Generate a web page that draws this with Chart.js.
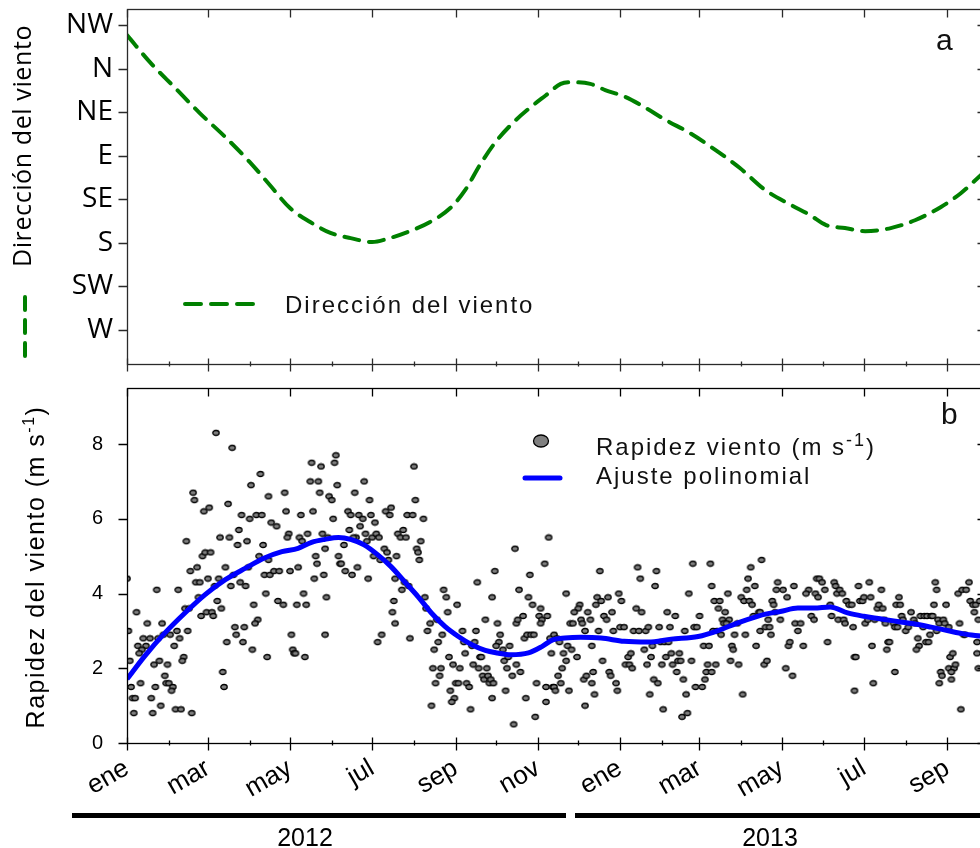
<!DOCTYPE html>
<html>
<head>
<meta charset="utf-8">
<script src="https://cdn.jsdelivr.net/npm/chart.js@4.4.1/dist/chart.umd.min.js"></script>
<style>
  html, body { margin: 0; padding: 0; background: #fff; overflow: hidden; width: 980px; height: 848px; }
  #wrap { position: relative; width: 980px; height: 848px; overflow: hidden; }
  canvas { position: absolute; left: 0; }
  #dir { top: 0; }
  #spd { top: 376px; }
</style>
</head>
<body>
<div id="wrap">
  <canvas id="dir" width="990" height="376"></canvas>
  <canvas id="spd" width="990" height="472"></canvas>
</div>
<script>
// ---- time axis: days since 1 Jan 2012 ----
const monthStarts = [0, 31, 60, 91, 121, 152, 182, 213, 244, 274, 305, 335, 366, 397, 425, 456, 486, 517, 547, 578, 609];
const monthNames  = ['ene','feb','mar','abr','may','jun','jul','ago','sep','oct','nov','dic','ene','feb','mar','abr','may','jun','jul','ago','sep'];
const dayMax = 634;

// ---- panel a: wind direction ----
const dirLabels = ['W', 'SW', 'S', 'SE', 'E', 'NE', 'N', 'NW'];
const dirDays   = [0, 17, 36, 54, 73, 91, 106, 121, 136, 151, 166, 182, 195, 210, 225, 240, 251, 262, 273, 285, 299, 311, 322, 329, 344, 355, 370, 385, 400, 418, 437, 455, 474, 493, 507, 519, 533, 548, 567, 585, 604, 619, 634];
const dirValues = [6.77, 6.15, 5.55, 4.98, 4.43, 3.86, 3.33, 2.80, 2.48, 2.23, 2.11, 2.02, 2.11, 2.27, 2.48, 2.80, 3.21, 3.79, 4.29, 4.71, 5.10, 5.39, 5.65, 5.69, 5.65, 5.51, 5.35, 5.10, 4.82, 4.52, 4.13, 3.72, 3.21, 2.87, 2.64, 2.41, 2.34, 2.27, 2.34, 2.52, 2.82, 3.14, 3.56];

// ---- panel b: daily wind speed [day, m/s] ----
const speedObs = [
  [66,8.3],[78,7.9],[99,7.2],[92,6.9],[49,6.7],[50,6.5],[117,6.7],[105,6.6],[75,6.4],[57,6.2],[61,6.3],[118,6.2],[85,6.1],[91,6.0],[96,6.1],[100,6.1],[107,5.9],[111,5.8],[83,5.7],[69,5.5],[76,5.5],[120,5.6],[119,5.5],[89,5.4],[82,5.3],[101,5.3],[44,5.4],[56,5.0],[58,5.1],[62,5.1],[98,5.0],[105,4.9],[52,4.7],[47,4.6],[73,4.7],[90,4.7],[79,4.5],[102,4.5],[106,4.5],[109,4.6],[113,4.6],[121,4.6],[127,4.7],[51,4.3],[54,4.3],[60,4.4],[68,4.4],[65,4.2],[77,4.2],[84,4.3],[88,4.2],[22,4.1],[38,4.1],[103,4.0],[53,3.9],[67,3.8],[70,3.6],[94,3.7],[112,3.8],[116,3.7],[126,3.7],[131,4.0],[133,3.7],[43,3.6],[46,3.6],[55,3.4],[59,3.5],[63,3.5],[64,3.4],[7,3.5],[97,3.3],[95,3.2],[80,3.1],[87,3.1],[81,2.9],[74,2.7],[86,2.7],[93,2.5],[104,2.3],[122,2.9],[123,2.5],[124,2.4],[125,2.4],[132,2.3],[15,3.2],[26,3.2],[45,3.0],[37,3.0],[39,2.8],[32,2.9],[27,2.9],[23,2.8],[35,2.6],[42,2.3],[41,2.2],[1,3.0],[12,2.8],[17,2.8],[14,2.6],[8,2.6],[11,2.5],[9,2.4],[2,2.2],[24,2.2],[20,2.1],[30,2.1],[28,1.8],[29,1.6],[31,1.6],[34,1.5],[33,1.4],[21,1.5],[10,1.6],[3,1.5],[4,1.2],[6,1.2],[18,1.2],[25,1.0],[5,0.8],[19,0.8],[36,0.9],[40,0.9],[48,0.8],[71,1.9],[72,1.5],[0,4.4],
  [137,7.5],[144,7.4],[154,7.5],[155,7.7],[136,7.0],[142,7.0],[143,6.7],[156,6.9],[150,6.6],[152,6.5],[138,6.2],[153,6.0],[129,6.1],[134,5.6],[145,5.6],[128,5.5],[130,5.4],[147,5.2],[149,5.5],[140,5.0],[141,4.8],[157,5.0],[158,4.8],[139,4.4],[146,4.5],[148,3.9],[147,2.9],
  [176,7.0],[169,6.7],[180,6.5],[213,7.4],[214,6.5],[164,6.2],[166,6.1],[172,6.1],[175,6.0],[181,6.1],[192,6.2],[196,6.3],[195,6.1],[208,6.1],[212,6.1],[220,6.0],[184,5.9],[173,5.8],[165,5.7],[177,5.6],[170,5.5],[168,5.5],[182,5.5],[185,5.6],[187,5.5],[205,5.7],[201,5.6],[203,5.5],[207,5.5],[218,5.4],[161,5.3],[178,5.4],[191,5.2],[193,5.1],[183,5.0],[188,4.9],[194,4.9],[200,5.0],[215,5.2],[216,5.1],[217,4.9],[159,4.8],[162,4.6],[167,4.5],[171,4.7],[179,4.4],[199,4.4],[204,4.1],[206,4.3],[209,4.2],[198,3.8],[197,3.5],[199,3.2],[189,2.9],[186,2.7],[210,2.8],[221,3.9],[222,3.6],[225,3.2],[223,3.0],[235,4.1],[237,3.9],[245,3.7],[238,3.5],[230,3.3],[234,2.9],[231,2.7],[228,2.5],[239,2.3],[242,2.1],[247,2.0],[227,2.0],[233,2.0],[232,1.8],[229,1.6],[244,1.6],[246,1.6],[240,1.4],[243,1.2],[241,1.1],[226,1.0],[249,3.0],[250,2.7],[251,2.4],[256,2.6],[259,3.0],[258,2.7],[257,2.1],[261,2.0],[262,2.3],[263,2.3],[267,2.0],[264,1.8],[265,1.7],[268,1.8],[269,1.6],[270,1.7],[272,1.6],[252,1.6],[254,1.5],[255,0.9],[271,1.2],[260,4.3],[266,3.3],[271,3.9],[273,4.6],[275,3.2],[277,2.9],[276,2.7],[274,2.6],[279,2.5],[280,2.2],[284,2.6],[283,2.3],[282,2.0],[286,1.8],[289,2.1],[292,1.9],[281,1.4],[288,5.2],[291,4.1],[299,4.5],[298,3.9],[301,3.7],[294,3.4],[289,3.2],[290,3.3],[295,2.8],[297,2.9],[300,2.9],[302,2.9],[307,3.6],[306,3.4],[308,3.3],[312,3.4],[307,3.2],[310,4.8],[313,5.5],[314,2.8],[315,2.4],[304,1.6],[311,1.5],[316,1.5],[311,1.1],[296,1.2],[303,0.7],[287,0.5],
  [326,4.0],[351,4.6],[379,4.7],[381,4.4],[393,4.6],[392,4.2],[420,4.8],[433,4.8],[434,4.2],[417,4.0],[471,4.9],[463,4.7],[461,4.4],[466,4.2],[460,4.1],[456,3.9],[458,3.8],[462,3.8],[464,3.7],[465,3.4],[469,3.5],[470,3.5],[336,3.7],[335,3.6],[332,3.5],[329,3.2],[331,3.2],[337,3.3],[338,3.2],[342,3.5],[344,3.3],[348,3.7],[349,3.9],[352,3.8],[357,3.9],[360,3.5],[354,3.4],[356,3.3],[365,4.0],[367,3.8],[340,3.0],[350,3.0],[361,3.0],[366,3.1],[369,3.1],[378,3.6],[382,3.5],[376,3.0],[380,3.0],[385,3.0],[387,3.1],[395,3.1],[401,3.5],[407,3.4],[403,3.1],[414,3.0],[421,3.1],[423,3.1],[425,3.4],[436,3.8],[440,3.8],[439,3.6],[444,3.5],[442,3.3],[447,3.3],[446,4.0],[443,3.2],[445,3.2],[453,3.2],[435,3.0],[438,3.0],[441,2.9],[451,2.9],[459,2.9],[470,3.0],[474,3.1],[467,2.6],[317,2.9],[319,2.8],[321,2.7],[327,2.6],[330,2.5],[324,2.4],[326,2.2],[334,2.3],[345,2.6],[320,1.8],[323,2.0],[322,1.6],[317,1.5],[318,1.4],[328,1.4],[339,1.7],[341,1.8],[346,1.9],[345,1.6],[347,1.3],[340,1.0],[353,2.2],[358,1.9],[359,1.8],[363,1.6],[364,1.4],[370,2.1],[372,2.3],[374,2.4],[373,2.1],[375,2.0],[384,2.5],[389,2.3],[386,2.1],[391,1.7],[394,1.6],[390,2.6],[396,2.7],[399,2.7],[402,2.7],[400,2.3],[404,2.4],[410,2.4],[397,2.1],[405,2.1],[408,1.9],[409,2.2],[411,2.2],[413,1.7],[419,2.2],[388,1.3],[398,0.9],[412,0.7],[416,0.8],[415,1.3],[422,1.5],[427,1.5],[429,1.7],[430,1.9],[431,2.1],[434,1.9],[437,2.1],[428,2.6],[432,2.6],[449,2.6],[450,2.5],[448,2.2],[454,2.1],[457,1.3],[473,2.1],[475,2.2],
  [483,4.3],[482,4.1],[487,4.1],[495,4.2],[490,3.9],[479,3.8],[480,3.7],[506,4.1],[504,4.0],[512,4.4],[514,4.4],[516,4.3],[518,4.1],[511,4.0],[513,3.9],[525,4.3],[526,4.2],[527,4.0],[529,4.1],[531,4.0],[534,3.8],[536,3.7],[538,3.7],[543,4.2],[544,3.8],[546,3.8],[547,3.9],[551,4.3],[552,3.9],[560,4.1],[557,3.6],[558,3.7],[561,3.6],[573,3.9],[571,3.7],[574,3.7],[600,4.3],[601,4.1],[599,3.7],[608,3.7],[617,4.0],[620,4.1],[623,4.1],[625,4.3],[626,3.8],[628,3.7],[630,3.7],[633,3.8],[481,3.5],[485,3.3],[476,3.3],[478,2.9],[477,3.1],[496,3.2],[500,3.2],[498,3.0],[508,3.4],[510,3.3],[522,3.7],[523,3.4],[528,3.3],[532,3.3],[533,3.2],[539,3.1],[548,3.2],[550,3.3],[555,3.3],[562,3.3],[563,3.2],[569,3.2],[570,3.1],[572,3.1],[575,3.4],[578,3.0],[580,3.1],[576,3.3],[582,3.5],[584,3.3],[585,3.2],[589,3.4],[592,3.4],[594,3.4],[597,3.4],[598,3.4],[591,3.1],[602,3.3],[603,3.2],[606,3.3],[607,3.2],[610,3.1],[618,3.2],[621,2.9],[622,2.9],[629,3.5],[632,3.3],[491,2.6],[492,2.7],[502,2.6],[520,2.7],[553,2.6],[565,2.7],[566,2.7],[564,2.5],[587,2.8],[588,2.6],[586,2.5],[593,2.7],[595,2.7],[596,2.9],[601,3.0],[489,2.0],[494,1.8],[540,2.3],[541,2.3],[540,1.4],[554,1.6],[570,1.9],[604,1.9],[605,1.8],[603,1.6],[611,2.3],[613,2.4],[610,2.0],[614,2.0],[615,2.1],[612,1.9],[612,1.7],[619,0.9],[631,2.7],[631,2.4],[632,2.0]
];

// ---- panel b: polynomial fit ----
const fitDays   = [0, 13, 28, 43, 58, 73, 88, 102, 115, 127, 137, 147, 157, 166, 176, 186, 196, 206, 216, 226, 236, 246, 256, 266, 275, 285, 298, 308, 316, 325, 337, 352, 369, 387, 404, 424, 439, 453, 468, 474, 485, 498, 510, 522, 535, 547, 560, 572, 584, 597, 609, 621, 634];
const fitValues = [1.71, 2.32, 2.94, 3.48, 3.97, 4.37, 4.68, 4.95, 5.12, 5.21, 5.37, 5.45, 5.50, 5.45, 5.30, 5.04, 4.72, 4.32, 3.92, 3.48, 3.12, 2.85, 2.63, 2.48, 2.41, 2.36, 2.41, 2.58, 2.76, 2.81, 2.83, 2.81, 2.72, 2.70, 2.78, 2.85, 3.01, 3.21, 3.39, 3.45, 3.52, 3.61, 3.61, 3.64, 3.48, 3.39, 3.32, 3.25, 3.19, 3.10, 3.01, 2.92, 2.86];

const speedTicks = [0, 2, 4, 6, 8];

const ARIAL = "'Liberation Sans', Arial, sans-serif";
const OPEN  = "'Open Sans', 'Noto Sans', sans-serif";
const GREEN = '#008000';
const BLUE  = '#0000ff';

// small grey ellipse used as the point marker
function makeDot(rx, ry) {
  const c = document.createElement('canvas');
  c.width = Math.ceil(rx * 2 + 3); c.height = Math.ceil(ry * 2 + 3);
  const g = c.getContext('2d');
  g.beginPath();
  g.ellipse(c.width / 2, c.height / 2, rx, ry, 0, 0, Math.PI * 2);
  g.fillStyle = '#808080'; g.fill();
  g.lineWidth = 1.3; g.strokeStyle = '#000'; g.stroke();
  return c;
}
const dot = makeDot(3.2, 2.5);

function drawFrame(chart, color) {
  const { ctx, chartArea: a } = chart;
  ctx.save();
  ctx.strokeStyle = color; ctx.lineWidth = 1.3;
  ctx.strokeRect(Math.round(a.left) + 0.5, Math.round(a.top) + 0.5, Math.round(a.right - a.left), Math.round(a.bottom - a.top));
  ctx.restore();
}

function drawTicks(chart, color, yMajors) {
  const { ctx, chartArea: a, scales: { x, y } } = chart;
  const top = Math.round(a.top) + 0.5, bot = Math.round(a.bottom) + 0.5;
  const left = Math.round(a.left) + 0.5, right = Math.round(a.right) + 0.5;
  ctx.save();
  ctx.strokeStyle = color; ctx.lineWidth = 1.3;
  ctx.beginPath();
  monthStarts.forEach((d, i) => {
    const px = Math.round(x.getPixelForValue(d)) + 0.5;
    if (i % 2 === 0) {
      ctx.moveTo(px, bot - 6); ctx.lineTo(px, bot + 7);
      ctx.moveTo(px, top); ctx.lineTo(px, top + 8);
    } else {
      ctx.moveTo(px, bot - 3); ctx.lineTo(px, bot + 2);
    }
  });
  yMajors.forEach(v => {
    const py = Math.round(y.getPixelForValue(v)) + 0.5;
    ctx.moveTo(left - 9, py); ctx.lineTo(left, py);
    ctx.moveTo(right - 4, py); ctx.lineTo(right, py);
  });
  ctx.stroke();
  ctx.restore();
}

// draws a run of text pieces [text, font, raise] along the current baseline
function runWidth(ctx, parts, spacing) {
  let w = 0;
  parts.forEach(p => { ctx.font = p[1]; ctx.letterSpacing = spacing; w += ctx.measureText(p[0]).width; });
  return w;
}
function drawRun(ctx, x, y, parts, spacing) {
  let cx = x;
  parts.forEach(p => {
    ctx.font = p[1]; ctx.letterSpacing = spacing;
    ctx.fillText(p[0], cx, y - (p[2] || 0));
    cx += ctx.measureText(p[0]).width;
  });
}

const dirDecor = {
  id: 'dirDecor',
  afterDraw(chart) {
    const { ctx } = chart;
    drawFrame(chart, '#2a2a2a');
    drawTicks(chart, '#2a2a2a', dirLabels.map((_, i) => i));
    ctx.save();
    ctx.fillStyle = '#000';
    ctx.textBaseline = 'alphabetic';
    // axis title
    ctx.save();
    ctx.translate(31, 146);
    ctx.rotate(-Math.PI / 2);
    ctx.textAlign = 'center';
    ctx.font = '25px ' + OPEN;
    ctx.letterSpacing = '0.6px';
    ctx.fillText('Dirección del viento', 0, 0);
    ctx.restore();
    // line sample under the title
    ctx.strokeStyle = GREEN; ctx.lineWidth = 4; ctx.lineCap = 'round';
    ctx.setLineDash([13, 10]);
    ctx.beginPath(); ctx.moveTo(25, 297); ctx.lineTo(25, 356); ctx.stroke();
    // legend
    ctx.setLineDash([16, 10]);
    ctx.beginPath(); ctx.moveTo(185, 304); ctx.lineTo(255, 304); ctx.stroke();
    ctx.setLineDash([]);
    ctx.textAlign = 'left';
    ctx.fillStyle = '#111';
    drawRun(ctx, 285, 313, [['Dirección del viento', '24px ' + ARIAL]], '2px');
    // panel letter
    ctx.font = '30px ' + ARIAL; ctx.letterSpacing = '0px';
    ctx.fillText('a', 936, 50);
    ctx.restore();
  }
};

const spdDecor = {
  id: 'spdDecor',
  afterDraw(chart) {
    const { ctx } = chart;
    drawFrame(chart, '#000');
    drawTicks(chart, '#000', speedTicks);
    ctx.save();
    ctx.fillStyle = '#000';
    ctx.textBaseline = 'alphabetic';
    // axis title with superscript
    const tparts = [['Rapidez del viento (m s', '25px ' + ARIAL], ['-1', '16px ' + ARIAL, 10], [')', '25px ' + ARIAL]];
    ctx.save();
    ctx.translate(44, 191);
    ctx.rotate(-Math.PI / 2);
    const tw = runWidth(ctx, tparts, '1.5px');
    drawRun(ctx, -tw / 2, 0, tparts, '1.5px');
    ctx.restore();
    // legend
    ctx.beginPath();
    ctx.ellipse(541, 65, 7.5, 6, 0, 0, Math.PI * 2);
    ctx.fillStyle = '#808080'; ctx.fill();
    ctx.lineWidth = 1.3; ctx.strokeStyle = '#000'; ctx.stroke();
    ctx.strokeStyle = BLUE; ctx.lineWidth = 5; ctx.lineCap = 'round';
    ctx.beginPath(); ctx.moveTo(525, 102); ctx.lineTo(560, 102); ctx.stroke();
    ctx.fillStyle = '#111';
    drawRun(ctx, 596, 79, [['Rapidez viento (m s', '24px ' + ARIAL], ['-1', '18px ' + ARIAL, 9], [')', '24px ' + ARIAL]], '2px');
    drawRun(ctx, 596, 108, [['Ajuste polinomial', '24px ' + ARIAL]], '2px');
    // panel letter
    ctx.font = '30px ' + ARIAL; ctx.letterSpacing = '0px';
    ctx.fillText('b', 941, 48);
    // year bands under the time axis
    ctx.fillStyle = '#000';
    ctx.fillRect(72, 437, 494, 5);
    ctx.fillRect(575, 437, 420, 5);
    ctx.font = '25px ' + ARIAL; ctx.textAlign = 'center';
    ctx.fillText('2012', 305, 470);
    ctx.fillText('2013', 770, 470);
    ctx.restore();
  }
};

const baseOpts = {
  responsive: false,
  animation: false,
  devicePixelRatio: 1,
  events: [],
  plugins: { legend: { display: false }, tooltip: { enabled: false } }
};

// keep the plot box fixed: no extra room reserved for half-labels
function fixY(width) {
  return function (s) { s.width = width; s.paddingTop = 0; s.paddingBottom = 0; };
}
function fixX(height) {
  return function (s) { s.height = height; s.paddingLeft = 0; s.paddingRight = 0; };
}

new Chart(document.getElementById('dir'), {
  type: 'line',
  data: {
    datasets: [{
      data: dirDays.map((d, i) => ({ x: d, y: dirValues[i] })),
      borderColor: GREEN, borderWidth: 4, borderDash: [15, 10], borderCapStyle: 'round',
      pointRadius: 0, cubicInterpolationMode: 'monotone', fill: false
    }]
  },
  options: Object.assign({}, baseOpts, {
    layout: { padding: { top: 9, right: 9, left: 0, bottom: 0 } },
    scales: {
      x: {
        type: 'linear', min: 0, max: dayMax,
        grid: { display: false, drawTicks: false }, border: { display: false },
        ticks: { display: false },
        afterFit: fixX(12)
      },
      y: {
        type: 'linear', min: -0.78, max: 7.37,
        grid: { display: false, drawTicks: false }, border: { display: false },
        afterBuildTicks(s) { s.ticks = dirLabels.map((_, i) => ({ value: i })); },
        ticks: { callback: v => dirLabels[v], font: { family: OPEN, size: 28 }, color: '#000', padding: 14 },
        afterFit: fixY(127)
      }
    }
  }),
  plugins: [dirDecor]
});

new Chart(document.getElementById('spd'), {
  type: 'scatter',
  data: {
    datasets: [
      {
        type: 'line', order: 0,
        data: fitDays.map((d, i) => ({ x: d, y: fitValues[i] })),
        borderColor: BLUE, borderWidth: 5, pointRadius: 0,
        cubicInterpolationMode: 'monotone', fill: false
      },
      {
        type: 'scatter', order: 1,
        data: speedObs.map(p => ({ x: p[0], y: p[1] })),
        pointStyle: dot, pointRadius: 4
      }
    ]
  },
  options: Object.assign({}, baseOpts, {
    layout: { padding: { top: 12, right: 9, left: 0, bottom: 0 } },
    scales: {
      x: {
        type: 'linear', min: 0, max: dayMax,
        grid: { display: false, drawTicks: false }, border: { display: false },
        afterBuildTicks(s) { s.ticks = monthStarts.filter((_, i) => i % 2 === 0).map(v => ({ value: v })); },
        ticks: {
          autoSkip: false, minRotation: 30, maxRotation: 30,
          callback: v => monthNames[monthStarts.indexOf(v)],
          font: { family: ARIAL, size: 26 }, color: '#000', padding: 10
        },
        afterFit: fixX(105)
      },
      y: {
        type: 'linear', min: 0, max: 9.5,
        grid: { display: false, drawTicks: false }, border: { display: false },
        afterBuildTicks(s) { s.ticks = speedTicks.map(v => ({ value: v })); },
        ticks: { font: { family: ARIAL, size: 20 }, color: '#000', padding: 24 },
        afterFit: fixY(127)
      }
    }
  }),
  plugins: [spdDecor]
});
</script>
</body>
</html>
